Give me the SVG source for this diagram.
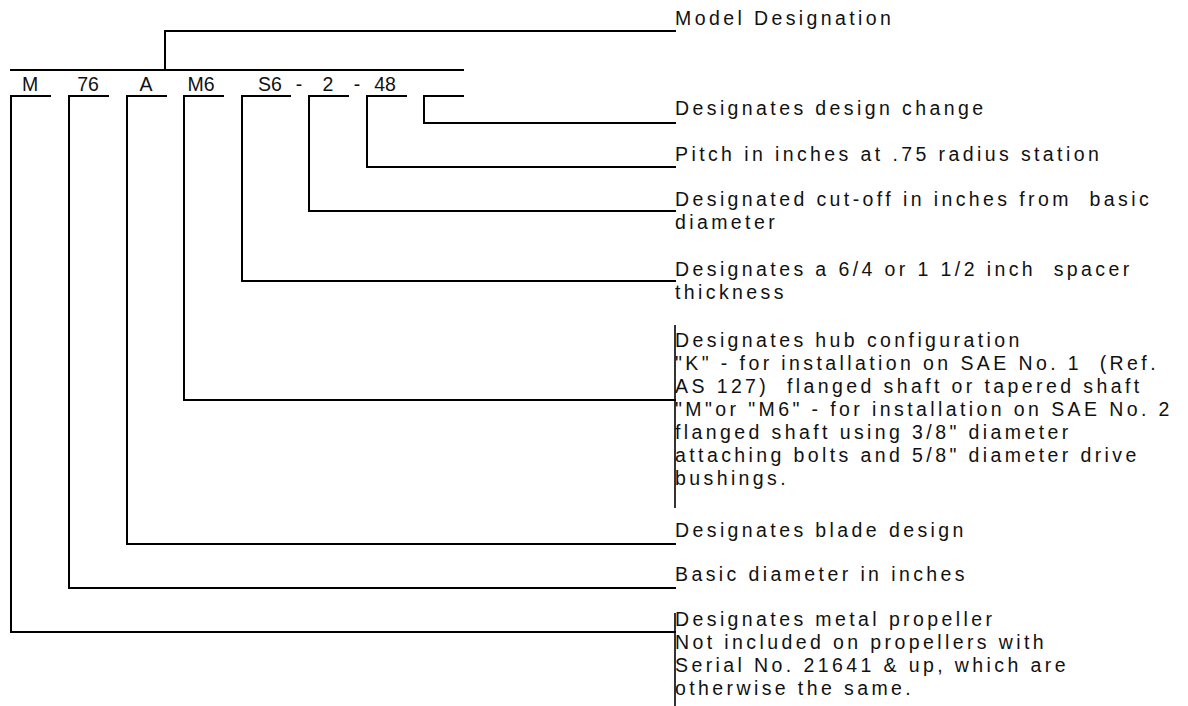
<svg xmlns="http://www.w3.org/2000/svg" width="1188" height="706" viewBox="0 0 1188 706">
<style>
.ln{fill:none;stroke:#000;stroke-width:2;stroke-linecap:square}
.bar{fill:none;stroke:#000;stroke-width:1.6}
.code{font-family:"Liberation Sans",Arial,sans-serif;font-size:19.5px;fill:#111;text-anchor:middle}
.lbl{font-family:"Liberation Sans",Arial,sans-serif;font-size:19.5px;letter-spacing:3.4px;fill:#111;white-space:pre}
</style>
<rect width="1188" height="706" fill="#fff"/>
<g id="connectors">
<path class="ln" d="M11 70 H463"/>
<path class="ln" d="M165 70 V31 H675"/>
<path class="ln" d="M463 96 H424 V123 H675"/>
<path class="ln" d="M406 96 H367 V167 H675"/>
<path class="ln" d="M348 96 H309 V211 H675"/>
<path class="ln" d="M290 96 H242 V281 H675"/>
<path class="ln" d="M223 96 H184 V400 H675"/>
<path class="ln" d="M166 96 H127 V544 H675"/>
<path class="ln" d="M108 96 H69 V588 H675"/>
<path class="ln" d="M50 96 H11 V632 H675"/>
</g>
<g id="code">
<text class="code" x="30" y="91">M</text>
<text class="code" x="88" y="91">76</text>
<text class="code" x="146" y="91">A</text>
<text class="code" x="201" y="91">M6</text>
<text class="code" x="270" y="91">S6</text>
<text class="code" x="299" y="91">-</text>
<text class="code" x="328" y="91">2</text>
<text class="code" x="357" y="91">-</text>
<text class="code" x="385" y="91">48</text>
</g>
<g id="label-model"><text class="lbl" x="675" y="25">Model Designation</text></g>
<g id="label-change"><text class="lbl" x="675" y="115">Designates design change</text></g>
<g id="label-pitch"><text class="lbl" x="675" y="161">Pitch in inches at .75 radius station</text></g>
<g id="label-cutoff"><text class="lbl" x="675" y="206">Designated cut-off in inches from  basic</text><text class="lbl" x="675" y="229">diameter</text></g>
<g id="label-spacer"><text class="lbl" x="675" y="276">Designates a 6/4 or 1 1/2 inch  spacer</text><text class="lbl" x="675" y="299">thickness</text></g>
<g id="label-hub">
<path class="bar" d="M675 325 V508"/>
<text class="lbl" x="675" y="347">Designates hub configuration</text>
<text class="lbl" x="675" y="370">"K" - for installation on SAE No. 1  (Ref.</text>
<text class="lbl" x="675" y="393">AS 127)  flanged shaft or tapered shaft</text>
<text class="lbl" x="675" y="416">"M"or "M6" - for installation on SAE No. 2</text>
<text class="lbl" x="675" y="439">flanged shaft using 3/8" diameter</text>
<text class="lbl" x="675" y="462">attaching bolts and 5/8" diameter drive</text>
<text class="lbl" x="675" y="485">bushings.</text>
</g>
<g id="label-blade"><text class="lbl" x="675" y="537">Designates blade design</text></g>
<g id="label-diameter"><text class="lbl" x="675" y="581">Basic diameter in inches</text></g>
<g id="label-metal">
<path class="bar" d="M675 613 V706"/>
<text class="lbl" x="675" y="626">Designates metal propeller</text>
<text class="lbl" x="675" y="649">Not included on propellers with</text>
<text class="lbl" x="675" y="672">Serial No. 21641 &amp; up, which are</text>
<text class="lbl" x="675" y="695">otherwise the same.</text>
</g>
</svg>
